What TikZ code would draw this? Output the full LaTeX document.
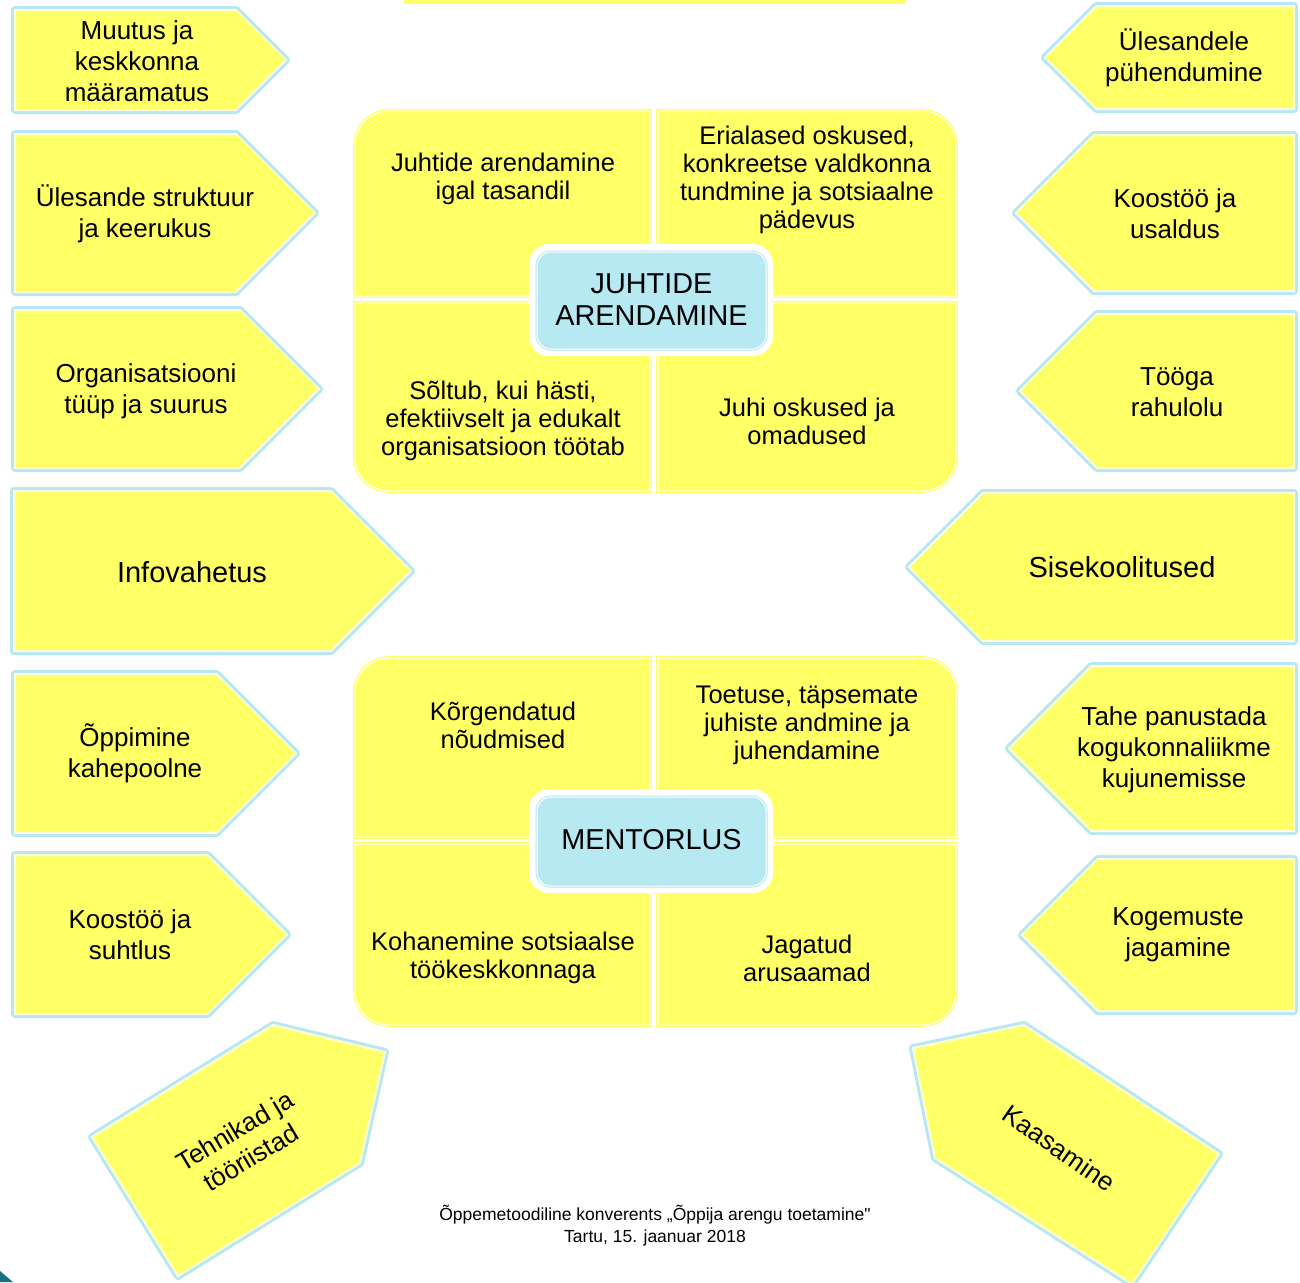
\documentclass[tikz,border=0pt]{standalone}
\usepackage{fontspec}
\setmainfont{Liberation Sans}
\newfontfamily\qfont{Liberation Sans}[Ligatures=TeXOff]
\definecolor{yel}{RGB}{255,255,102}
\definecolor{blu}{RGB}{183,232,242}
\definecolor{cyn}{RGB}{183,233,243}
\definecolor{tealc}{RGB}{22,112,132}
\tikzset{
  arrowbox/.style={preaction={draw=blu, line width=8pt, line join=round}, fill=yel,
    postaction={draw=white, line width=0.6pt, double=yel!60!white, double distance=0.8pt}},
  quad/.style={fill=yel, draw=yel, line width=1.3pt, double=white, double distance=1pt},
  txt/.style={align=center, inner sep=0pt, font=\fontsize{26}{31}\selectfont},
  bigtxt/.style={align=center, inner sep=0pt, font=\fontsize{29}{33}\selectfont},
  qtxt/.style={align=center, inner sep=0pt, font=\fontsize{25.5}{28}\selectfont},
  ctxt/.style={align=center, inner sep=0pt, font=\fontsize{28.8}{32}\selectfont},
  foot/.style={align=center, inner sep=0pt, font=\fontsize{17.5}{22}\selectfont},
  cbox/.style={fill=cyn, draw=blu, line width=1pt, double=white, double distance=1pt, rounded corners=14pt}
}
\newcommand\RPent[4]{% x1, y1, y2, xtip
  \pgfmathsetmacro\myhalf{(#3-#2)/2}
  \pgfmathsetmacro\mysh{#4-\myhalf}
  \pgfmathsetmacro\mymid{(#2+#3)/2}
  \path[arrowbox] (#1,#2) -- (\mysh,#2) -- (#4,\mymid) -- (\mysh,#3) -- (#1,#3) -- cycle;
}
\newcommand\LPent[4]{% x2, y1, y2, xtip
  \pgfmathsetmacro\myhalf{(#3-#2)/2}
  \pgfmathsetmacro\mysh{#4+\myhalf}
  \pgfmathsetmacro\mymid{(#2+#3)/2}
  \path[arrowbox] (#1,#2) -- (\mysh,#2) -- (#4,\mymid) -- (\mysh,#3) -- (#1,#3) -- cycle;
}
\begin{document}
\begin{tikzpicture}[x=1pt, y=-1pt]
\useasboundingbox (0,0) rectangle (1300,1282);
\fill[white] (0,0) rectangle (1300,1282);
% top bar
\fill[yel] (404,0) rectangle (906,4);
% left arrows
\RPent{15}{10}{110}{286}
\RPent{15}{134}{292}{315}
\RPent{15}{310}{468}{319}
\RPent{14}{491}{651}{411}
\RPent{15}{674}{833}{296}
\RPent{15}{855}{1014}{287}
% right arrows
\LPent{1294}{6}{109}{1045}
\LPent{1294}{135}{291}{1016}
\LPent{1294}{314}{468}{1020}
\LPent{1294}{493}{641}{909}
\LPent{1294}{666}{831}{1009}
\LPent{1294}{859}{1011}{1022}
% rotated bottom arrows
\path[arrowbox] (92,1137) -- (273,1025) -- (385,1052) -- (360,1163) -- (178,1276) -- cycle;
\path[arrowbox] (913,1048) -- (1024,1025) -- (1219,1154) -- (1132,1284) -- (935,1158) -- cycle;
% top block quadrants
\path[quad] (650,296) -- (355,296) -- (355,145) .. controls (355,126) and (370,111) .. (389,111) -- (650,111) -- cycle;
\path[quad] (658,296) -- (658,111) -- (922,111) .. controls (941,111) and (956,126) .. (956,145) -- (956,296) -- cycle;
\path[quad] (650,303) -- (355,303) -- (355,457) .. controls (355,476) and (370,491) .. (389,491) -- (650,491) -- cycle;
\path[quad] (658,303) -- (956,303) -- (956,457) .. controls (956,476) and (941,491) .. (922,491) -- (658,491) -- cycle;
% bottom block quadrants
\path[quad] (650,837) -- (355,837) -- (355,692) .. controls (355,673) and (370,658) .. (389,658) -- (650,658) -- cycle;
\path[quad] (658,837) -- (658,658) -- (922,658) .. controls (941,658) and (956,673) .. (956,692) -- (956,837) -- cycle;
\path[quad] (650,844) -- (355,844) -- (355,991) .. controls (355,1010) and (370,1025) .. (389,1025) -- (650,1025) -- cycle;
\path[quad] (658,844) -- (956,844) -- (956,991) .. controls (956,1010) and (941,1025) .. (922,1025) -- (658,1025) -- cycle;
% centre boxes
\fill[white, rounded corners=20pt] (529,244) rectangle (773,356);
\node[cbox, minimum width=229pt, minimum height=97pt, inner sep=0pt] (jbox) at (651.5,300.5) {};
\node[ctxt] (jtxt) at (651.5,300) {JUHTIDE\\ARENDAMINE};
\fill[white, rounded corners=20pt] (529,789) rectangle (773,893);
\node[cbox, minimum width=229pt, minimum height=89pt, inner sep=0pt] (mbox) at (651.5,841.5) {};
\node[ctxt] (mtxt) at (651.5,840) {MENTORLUS};
% left texts
\node[txt] (l1) at (137,61.5) {Muutus ja\\keskkonna\\määramatus};
\node[txt] (l2) at (145,213.5) {Ülesande struktuur\\ja keerukus};
\node[txt] (l3) at (146,391) {Organisatsiooni\\tüüp ja suurus};
\node[bigtxt] (l4) at (192,572) {Infovahetus};
\node[txt] (l5) at (135,753.5) {Õppimine\\kahepoolne};
\node[txt] (l6) at (130,935) {Koostöö ja\\suhtlus};
% right texts
\node[txt] (r1) at (1184,58) {Ülesandele\\pühendumine};
\node[txt] (r2) at (1175,213.5) {Koostöö ja\\usaldus};
\node[txt] (r3) at (1177,392) {Tööga\\rahulolu};
\node[bigtxt] (r4) at (1122,567) {Sisekoolitused};
\node[txt] (r5) at (1174,750) {Tahe panustada\\kogukonnaliikme\\kujunemisse};
\node[txt] (r6) at (1178,935) {Kogemuste\\jagamine};
% quadrant texts
\node[qtxt] (q1) at (503,179) {Juhtide arendamine\\igal tasandil};
\node[qtxt] (q2) at (807,180) {Erialased oskused,\\konkreetse valdkonna\\tundmine ja sotsiaalne\\pädevus};
\node[qtxt] (q3) at (503,421) {Sõltub, kui hästi,\\efektiivselt ja edukalt\\organisatsioon töötab};
\node[qtxt] (q4) at (807,421.5) {Juhi oskused ja\\omadused};
\node[qtxt] (q5) at (503,725) {Kõrgendatud\\nõudmised};
\node[qtxt] (q6) at (807,725) {Toetuse, täpsemate\\juhiste andmine ja\\juhendamine};
\node[qtxt] (q7) at (503,958) {Kohanemine sotsiaalse\\töökeskkonnaga};
\node[qtxt] (q8) at (807,958) {Jagatud\\arusaamad};
% rotated texts
\node[txt, rotate=31] (b1) at (243,1144) {Tehnikad ja\\tööriistad};
\node[txt, rotate=-35] (b2) at (1059,1148) {Kaasamine};
% footer
\node[foot] (ft) at (655,1226) {Õppemetoodiline konverents „Õppija arengu toetamine{\qfont"}\\Tartu, 15. jaanuar 2018};
% corner
\fill[tealc] (0,1271) -- (13,1282) -- (0,1282) -- cycle;
\end{tikzpicture}
\end{document}
